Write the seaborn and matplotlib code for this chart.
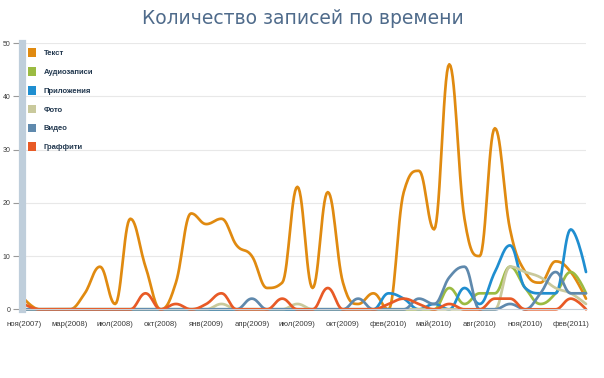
import numpy as np
import pandas as pd
import matplotlib
matplotlib.use("Agg")
import matplotlib.pyplot as plt
from matplotlib.patches import Patch
from matplotlib.ticker import MultipleLocator
import seaborn as sns

##### данные (одна точка на интервал)
tick_labels = ["ноя(2007)", "мар(2008)", "июл(2008)", "окт(2008)", "янв(2009)",
               "апр(2009)", "июл(2009)", "окт(2009)", "фев(2010)", "май(2010)",
               "авг(2010)", "ноя(2010)", "фев(2011)"]

text_vals = [2, 0, 0, 0, 3, 8, 1, 17, 8, 0, 5, 18, 16, 17, 12, 10, 4, 5, 23, 4,
             22, 5, 1, 3, 0, 22, 26, 15, 46, 17, 10, 34, 15, 7, 5, 9, 7, 2]
audio_vals = [0, 0, 0, 0, 0, 0, 0, 0, 0, 0, 0, 0, 0, 0, 0, 0, 0, 0, 0, 0,
              0, 0, 0, 0, 0, 0, 0, 0, 4, 1, 3, 3, 8, 4, 1, 3, 7, 3]
apps_vals = [0, 0, 0, 0, 0, 0, 0, 0, 0, 0, 0, 0, 0, 0, 0, 0, 0, 0, 0, 0,
             0, 0, 0, 0, 3, 2, 0, 1, 0, 4, 1, 7, 12, 4, 3, 3, 15, 7]
photo_vals = [0, 0, 0, 0, 0, 0, 0, 0, 0, 0, 0, 0, 0, 1, 0, 0, 0, 0, 1, 0,
              0, 0, 0, 0, 0, 0, 0, 0, 0, 0, 0, 0, 8, 7, 6, 4, 3, 1]
video_vals = [0, 0, 0, 0, 0, 0, 0, 0, 0, 0, 0, 0, 0, 0, 0, 2, 0, 0, 0, 0,
              0, 0, 2, 0, 0, 0, 2, 1, 6, 8, 0, 0, 1, 0, 3, 7, 3, 3]
graffiti_vals = [1, 0, 0, 0, 0, 0, 0, 0, 3, 0, 1, 0, 1, 3, 0, 0, 0, 2, 0, 0,
                 4, 0, 0, 0, 1, 2, 1, 0, 1, 0, 0, 2, 2, 0, 0, 0, 2, 0]

series_names = ["Текст", "Аудиозаписи", "Приложения", "Фото", "Видео", "Граффити"]
series_vals = [text_vals, audio_vals, apps_vals, photo_vals, video_vals, graffiti_vals]
colors = ["#e08a10", "#9bbb42", "#1f8ed0", "#c9c99c", "#5f89ad", "#e85a26"]


##### сглаживание как у spline (кубические кривые Безье через точки)
def spline_curve(y, steps=16):
    y = np.asarray(y, dtype=float)
    n = len(y)
    x = np.arange(n, dtype=float)
    sm = 1.5
    den = sm + 1
    lc = [(x[i], y[i]) for i in range(n)]
    rc = [(x[i], y[i]) for i in range(n)]
    for i in range(1, n - 1):
        lx = (sm * x[i] + x[i - 1]) / den
        ly = (sm * y[i] + y[i - 1]) / den
        rx = (sm * x[i] + x[i + 1]) / den
        ry = (sm * y[i] + y[i + 1]) / den
        corr = (ry - ly) * (rx - x[i]) / (rx - lx) + y[i] - ry
        ly += corr
        ry += corr
        if ly > y[i - 1] and ly > y[i]:
            ly = max(y[i - 1], y[i]); ry = 2 * y[i] - ly
        elif ly < y[i - 1] and ly < y[i]:
            ly = min(y[i - 1], y[i]); ry = 2 * y[i] - ly
        if ry > y[i + 1] and ry > y[i]:
            ry = max(y[i + 1], y[i]); ly = 2 * y[i] - ry
        elif ry < y[i + 1] and ry < y[i]:
            ry = min(y[i + 1], y[i]); ly = 2 * y[i] - ry
        lc[i] = (lx, ly)
        rc[i] = (rx, ry)
    t = np.linspace(0, 1, steps)[:, None]
    pts = [np.array([[x[0], y[0]]])]
    for i in range(1, n):
        p0 = np.array([x[i - 1], y[i - 1]])
        p1 = np.array(rc[i - 1])
        p2 = np.array(lc[i])
        p3 = np.array([x[i], y[i]])
        b = ((1 - t) ** 3) * p0 + 3 * ((1 - t) ** 2) * t * p1 \
            + 3 * (1 - t) * t ** 2 * p2 + t ** 3 * p3
        pts.append(b[1:])
    pts = np.vstack(pts)
    return pts[:, 0], pts[:, 1]


frames = []
for name, vals in zip(series_names, series_vals):
    xs, ys = spline_curve(vals)
    frames.append(pd.DataFrame({"x": xs, "y": ys, "series": name}))
df = pd.concat(frames, ignore_index=True)

##### рисунок
sns.set_style("white")
plt.rcParams["font.family"] = ["Liberation Sans", "DejaVu Sans"]

W, H = 604, 378
fig = plt.figure(figsize=(W / 100, H / 100), dpi=100)
left_px, right_px, top_px, bottom_px = 21.5, 586, 43, 309.3
ax = fig.add_axes([left_px / W, 1 - bottom_px / H,
                   (right_px - left_px) / W, (bottom_px - top_px) / H])

palette = dict(zip(series_names, colors))
sns.lineplot(data=df, x="x", y="y", hue="series", palette=palette,
             hue_order=series_names, sort=False, estimator=None,
             linewidth=1.95, legend=False, ax=ax)
for ln in ax.get_lines():
    ln.set_clip_on(False)
    ln.set_solid_capstyle("round")

n = len(text_vals)
ax.set_xlim(-(24 - left_px) / 15.19, n - 1)
ax.set_ylim(0, 50)

ax.set_xticks(range(n))
ax.set_xticklabels([tick_labels[i // 3] if i % 3 == 0 else "" for i in range(n)])
ax.tick_params(axis="x", length=3.6, width=0.8, color="#c4c4c4",
               labelsize=5.6, labelcolor="#3a3a3a", pad=8.4)
for lab in ax.get_xticklabels():
    lab.set_verticalalignment("baseline")

ax.yaxis.set_major_locator(MultipleLocator(10))
ax.yaxis.set_minor_locator(MultipleLocator(5))
ax.tick_params(axis="y", which="major", left=True, length=6.8, width=0.8,
               color="#9a9a9a", labelsize=5, labelcolor="#3a3a3a", pad=1)
ax.tick_params(axis="y", which="minor", left=True, length=5.4, width=0.8,
               color="white", direction="inout")

ax.grid(axis="y", color="#e8e8e8", lw=0.8)
ax.set_axisbelow(True)
ax.set_xlabel("")
ax.set_ylabel("")
sns.despine(ax=ax, top=True, right=True)
ax.spines["left"].set_color("#bfcedb")
ax.spines["left"].set_linewidth(5.2)
ax.spines["bottom"].set_color("#c8d0d8")
ax.spines["bottom"].set_linewidth(0.8)

handles = [Patch(facecolor=c, edgecolor="none") for c in colors]
leg = fig.legend(handles, series_names, loc="upper left",
                 bbox_to_anchor=(28.3 / W, 1 - 48.5 / H),
                 frameon=False, borderpad=0, borderaxespad=0,
                 handlelength=1.0, handleheight=1.35, handletextpad=1.05,
                 labelspacing=1.3, prop={"size": 5.5, "weight": "bold"},
                 labelcolor="#22384f")

fig.text(303 / W, 1 - 18 / H, "Количество записей по времени", ha="center",
         va="center", fontsize=13.5, color="#4f6b8b", family="DejaVu Sans")

fig.savefig("out.png", dpi=100)
plt.close()
